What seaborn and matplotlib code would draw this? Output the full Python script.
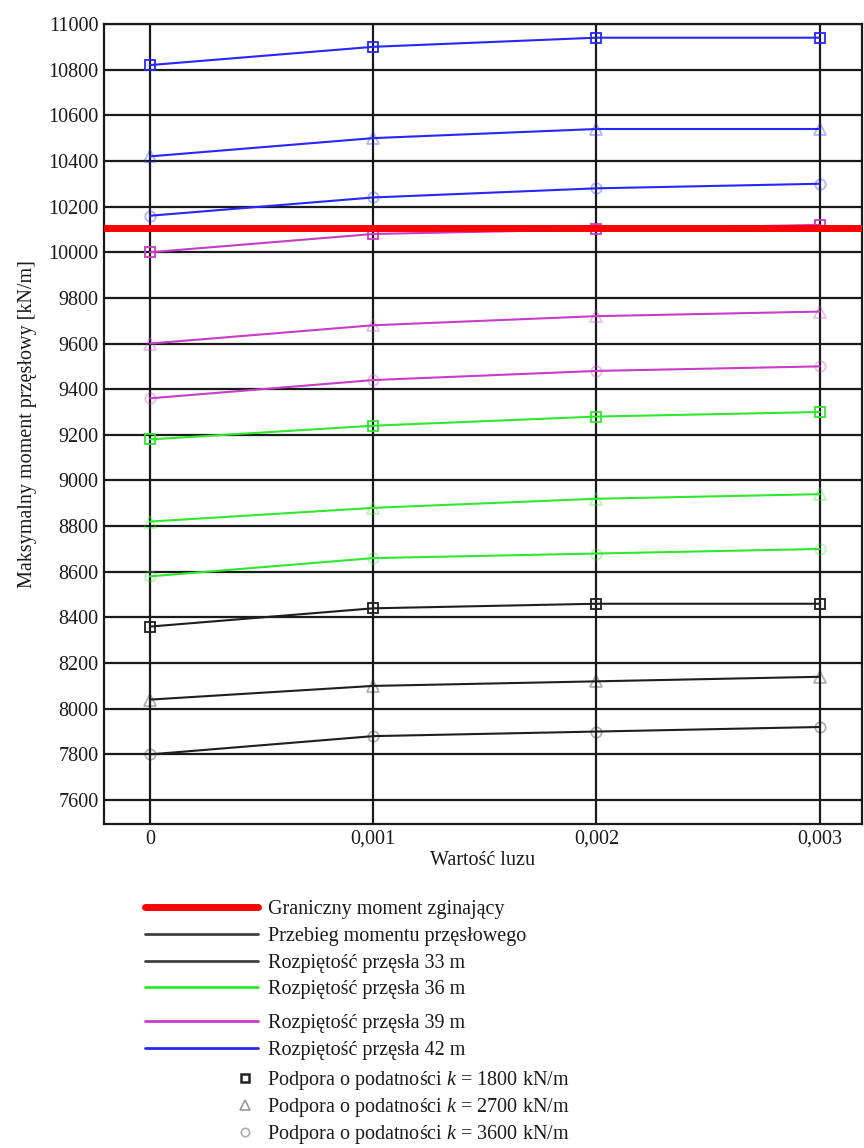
import numpy as np
import pandas as pd
import matplotlib
matplotlib.use("Agg")
import matplotlib.pyplot as plt
from matplotlib.lines import Line2D
import seaborn as sns

# --- dane ---
luz = [0.0, 0.001, 0.002, 0.003]
luz_labels = ["0", "0,001", "0,002", "0,003"]

# rozpiętość 33 m
m33_k1800 = [8360, 8440, 8460, 8460]
m33_k2700 = [8040, 8100, 8120, 8140]
m33_k3600 = [7800, 7880, 7900, 7920]
# rozpiętość 36 m
m36_k1800 = [9180, 9240, 9280, 9300]
m36_k2700 = [8820, 8880, 8920, 8940]
m36_k3600 = [8580, 8660, 8680, 8700]
# rozpiętość 39 m
m39_k1800 = [10000, 10080, 10100, 10120]
m39_k2700 = [9600, 9680, 9720, 9740]
m39_k3600 = [9360, 9440, 9480, 9500]
# rozpiętość 42 m
m42_k1800 = [10820, 10900, 10940, 10940]
m42_k2700 = [10420, 10500, 10540, 10540]
m42_k3600 = [10160, 10240, 10280, 10300]

m_graniczny = 10105  # graniczny moment zginający

spans = [33, 36, 39, 42]
ks = [1800, 2700, 3600]
series = {
    (33, 1800): m33_k1800, (33, 2700): m33_k2700, (33, 3600): m33_k3600,
    (36, 1800): m36_k1800, (36, 2700): m36_k2700, (36, 3600): m36_k3600,
    (39, 1800): m39_k1800, (39, 2700): m39_k2700, (39, 3600): m39_k3600,
    (42, 1800): m42_k1800, (42, 2700): m42_k2700, (42, 3600): m42_k3600,
}

rows = []
for (span, k), vals in series.items():
    for x, m in zip(luz, vals):
        rows.append({"luz": x, "M": m, "span": span, "k": k})
df = pd.DataFrame(rows)

# --- styl ---
span_colors = {33: "#1e1e1e", 36: "#2ee82e", 39: "#c83cc8", 42: "#2626ff"}
k_markers = {1800: "s", 2700: "^", 3600: "o"}
k_alpha = {1800: 1.0, 2700: 0.35, 3600: 0.35}
k_size = {1800: 7.5, 2700: 8.5, 3600: 7.5}
FS = 14.5

sns.set_style("white")
plt.rcParams["font.family"] = ["Liberation Serif", "DejaVu Serif"]
plt.rcParams["mathtext.fontset"] = "custom"
plt.rcParams["mathtext.rm"] = "Liberation Serif"
plt.rcParams["mathtext.it"] = "Liberation Serif:italic"

fig = plt.figure(figsize=(8.64, 11.48), dpi=100)
ax = fig.add_axes([104 / 864, 1 - 824 / 1148, (862 - 104) / 864, 800 / 1148])

for (span, k), grp in df.groupby(["span", "k"]):
    col = span_colors[span]
    mec = matplotlib.colors.to_rgba(col, k_alpha[k])
    sns.lineplot(data=grp, x="luz", y="M", ax=ax, color=col, linewidth=1.5,
                 marker=k_markers[k], markersize=k_size[k],
                 markerfacecolor="none", markeredgecolor=mec,
                 markeredgewidth=1.3, legend=False, zorder=3)

ax.axhline(m_graniczny, color="#ff0000", linewidth=5, zorder=4)

ax.set_xlim(-0.000206, 0.00319)
ax.set_ylim(7495, 11000)
ax.set_yticks(np.arange(7600, 11001, 200))
ax.set_xticks(luz)
ax.set_xticklabels(luz_labels)
ax.grid(True, color="#1a1a1a", linewidth=1.6)
ax.set_axisbelow(True)
for s in ax.spines.values():
    s.set_color("#1a1a1a")
    s.set_linewidth(1.6)
ax.tick_params(length=0, labelsize=FS, colors="#1a1a1a", pad=4)
ax.set_xlabel("Wartość luzu", fontsize=FS, color="#1a1a1a", labelpad=2)
ax.set_ylabel("Maksymalny moment przęsłowy [kN/m]", fontsize=FS,
              color="#1a1a1a", labelpad=8)

# --- legenda ---
leg_kw = dict(loc="upper left", frameon=False, fontsize=FS, borderpad=0,
              borderaxespad=0, labelcolor="#1a1a1a")

line_handles = [
    Line2D([], [], color="#ff0000", linewidth=5, solid_capstyle="round"),
    Line2D([], [], color="#404040", linewidth=2),
    Line2D([], [], color="#404040", linewidth=2),
    Line2D([], [], color=span_colors[36], linewidth=2),
    Line2D([], [], color=span_colors[39], linewidth=2),
    Line2D([], [], color=span_colors[42], linewidth=2),
]
line_labels = [
    "Graniczny moment zginający",
    "Przebieg momentu przęsłowego",
    "Rozpiętość przęsła 33 m",
    "Rozpiętość przęsła 36 m",
    "Rozpiętość przęsła 39 m",
    "Rozpiętość przęsła 42 m",
]
leg_a = fig.legend(line_handles[:4], line_labels[:4],
                   bbox_to_anchor=(145 / 864, 1 - 900 / 1148),
                   handlelength=5.6, handletextpad=0.5, labelspacing=0.38,
                   **leg_kw)
leg_b = fig.legend(line_handles[4:], line_labels[4:],
                   bbox_to_anchor=(145 / 864, 1 - 1014 / 1148),
                   handlelength=5.6, handletextpad=0.5, labelspacing=0.38,
                   **leg_kw)

marker_handles = [
    Line2D([], [], linestyle="none", marker="s", markersize=6,
           markerfacecolor="none", markeredgecolor="#222222", markeredgewidth=1.8),
    Line2D([], [], linestyle="none", marker="^", markersize=7,
           markerfacecolor="none", markeredgecolor="#999999", markeredgewidth=1.2),
    Line2D([], [], linestyle="none", marker="o", markersize=6,
           markerfacecolor="none", markeredgecolor="#aaaaaa", markeredgewidth=1.2),
]
marker_labels = [f"Podpora o podatności $k$ = {k} kN/m" for k in ks]
fig.legend(marker_handles, marker_labels,
           bbox_to_anchor=(235 / 864, 1 - 1069 / 1148),
           handlelength=1.0, handletextpad=0.6, labelspacing=0.21,
           **leg_kw)

fig.savefig("out.png", dpi=100)
